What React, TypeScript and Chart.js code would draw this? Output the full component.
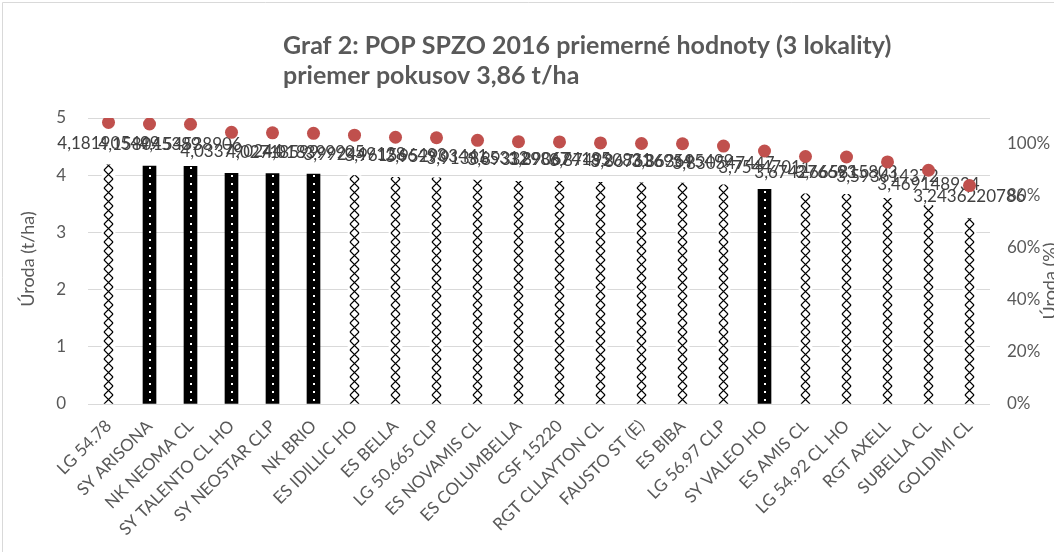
import React, { useEffect, useRef } from "react";
import { Chart, registerables } from "chart.js";

Chart.register(...registerables);

const titleLines = ["Graf 2: POP SPZO 2016 priemerné hodnoty (3 lokality)", "priemer pokusov 3,86 t/ha"];
const leftAxisTitle = "Úroda (t/ha)";
const rightAxisTitle = "Úroda (%)";

const categories = [
  "LG 54.78", "SY ARISONA", "NK NEOMA CL", "SY TALENTO CL HO", "SY NEOSTAR CLP", "NK BRIO",
  "ES IDILLIC HO", "ES BELLA", "LG 50.665 CLP", "ES NOVAMIS CL", "ES COLUMBELLA", "CSF 15220",
  "RGT CLLAYTON CL", "FAUSTO ST (E)", "ES BIBA", "LG 56.97 CLP", "SY VALEO HO", "ES AMIS CL",
  "LG 54.92 CL HO", "RGT AXELL", "SUBELLA CL", "GOLDIMI CL",
];

const yields = [
  4.181905499, 4.158045389, 4.154538906, 4.033790244, 4.02718599, 4.018399905,
  3.992449128, 3.961566493, 3.952903441, 3.913865312, 3.893329867, 3.890674185,
  3.874920831, 3.867636954, 3.863695499, 3.830547447, 3.75447011, 3.674276693,
  3.665815803, 3.593614372, 3.469148934, 3.2436220786,
];

const relativePct = [
  108.3, 107.7, 107.6, 104.5, 104.3, 104.1, 103.4, 102.6, 102.4, 101.4, 100.9, 100.8,
  100.4, 100.2, 100.1, 99.2, 97.3, 95.2, 95.0, 93.1, 89.9, 84.0,
];

const solidVarieties = ["SY ARISONA", "NK NEOMA CL", "SY TALENTO CL HO", "SY NEOSTAR CLP", "NK BRIO", "SY VALEO HO"];

const leftMin = 0;
const leftMax = 5;
const leftStep = 1;
const rightMin = 0;
const rightMax = 110;
const rightStep = 20;

const FONT = "Lato, 'Open Sans', sans-serif";
const TEXT = "#595959";
const BAR_W = 13;

function makeHatchTile(): HTMLCanvasElement {
  const c = document.createElement("canvas");
  c.width = BAR_W;
  c.height = 9;
  const g = c.getContext("2d")!;
  g.fillStyle = "#ffffff";
  g.fillRect(0, 0, c.width, c.height);
  g.strokeStyle = "#000000";
  g.lineWidth = 1.2;
  g.beginPath();
  g.moveTo(2, 0);
  g.lineTo(11, 9);
  g.moveTo(11, 0);
  g.lineTo(2, 9);
  g.stroke();
  return c;
}

function makeSolidTile(): HTMLCanvasElement {
  const c = document.createElement("canvas");
  c.width = BAR_W;
  c.height = 8;
  const g = c.getContext("2d")!;
  g.fillStyle = "#000000";
  g.fillRect(0, 0, c.width, c.height);
  g.fillStyle = "#ffffff";
  g.fillRect(6, 3, 2, 2);
  return c;
}

export default function App() {
  const ref = useRef<HTMLCanvasElement | null>(null);

  useEffect(() => {
    const canvas = ref.current!;
    const hatchTile = makeHatchTile();
    const solidTile = makeSolidTile();

    const decor = {
      id: "decor",
      afterDatasetDraw(chart: any, args: any) {
        if (args.index !== 0) return;
        const ctx = chart.ctx;
        const meta = chart.getDatasetMeta(0);
        ctx.save();
        ctx.font = `17px ${FONT}`;
        ctx.fillStyle = "#404040";
        ctx.textAlign = "center";
        ctx.textBaseline = "bottom";
        meta.data.forEach((el: any, i: number) => {
          const txt = String(yields[i]).replace(".", ",");
          ctx.fillText(txt, el.x, el.y - 13);
        });
        ctx.restore();
      },
      afterDraw(chart: any) {
        const ctx = chart.ctx;
        const area = chart.chartArea;
        ctx.save();
        ctx.strokeStyle = "#d9d9d9";
        ctx.lineWidth = 1;
        ctx.beginPath();
        ctx.moveTo(2.5, 552);
        ctx.lineTo(2.5, 2.5);
        ctx.lineTo(1054, 2.5);
        ctx.stroke();
        ctx.fillStyle = TEXT;
        ctx.font = `bold 25px ${FONT}`;
        ctx.textAlign = "left";
        ctx.textBaseline = "middle";
        ctx.fillText(titleLines[0], 283, 46);
        ctx.fillText(titleLines[1], 283, 76);
        const cy = (area.top + area.bottom) / 2;
        ctx.font = `18px ${FONT}`;
        ctx.textAlign = "center";
        ctx.save();
        ctx.translate(28, cy - 2);
        ctx.rotate(-Math.PI / 2);
        ctx.fillText(leftAxisTitle, 0, 0);
        ctx.restore();
        ctx.save();
        ctx.translate(1050, cy + 20);
        ctx.rotate(-Math.PI / 2);
        ctx.fillText(rightAxisTitle, 0, 0);
        ctx.restore();
        ctx.restore();
      },
    };

    const chart = new Chart(canvas, {
      data: {
        labels: categories,
        datasets: [
          {
            type: "bar",
            label: "Úroda (t/ha)",
            data: yields,
            yAxisID: "y",
            order: 1,
            barThickness: BAR_W,
            borderWidth: 0,
            backgroundColor: (c: any) => {
              const chartRef = c.chart;
              const i = c.dataIndex;
              if (i === undefined || !chartRef.scales || !chartRef.scales.x) return "#000";
              const tile = solidVarieties.includes(categories[i]) ? solidTile : hatchTile;
              const pat = chartRef.ctx.createPattern(tile, "repeat");
              const cx = chartRef.scales.x.getPixelForValue(i);
              const left = Math.round(cx - BAR_W / 2);
              const base = chartRef.scales.y.getPixelForValue(0);
              if (pat && (pat as any).setTransform) {
                pat.setTransform(new DOMMatrix().translate(left, Math.round(base)));
              }
              return pat || "#000";
            },
          } as any,
          {
            type: "line",
            label: "Úroda (%)",
            data: relativePct,
            yAxisID: "y1",
            order: 0,
            showLine: false,
            pointRadius: 6.5,
            pointHoverRadius: 6.5,
            pointBackgroundColor: "#c0504d",
            pointBorderColor: "#c0504d",
            pointBorderWidth: 0,
            borderColor: "#c0504d",
          } as any,
        ],
      },
      options: {
        responsive: false,
        animation: false,
        devicePixelRatio: 1,
        layout: { padding: { top: 118, left: 0, right: 0, bottom: 0 } },
        plugins: {
          legend: { display: false },
          title: { display: false },
          tooltip: { enabled: false },
        },
        scales: {
          x: {
            grid: { display: false },
            border: { display: false },
            ticks: {
              autoSkip: false,
              minRotation: 45,
              maxRotation: 45,
              color: TEXT,
              font: { family: FONT, size: 17 },
              padding: 4,
            },
            afterFit: (s: any) => {
              s.height = 148;
            },
          },
          y: {
            position: "left",
            min: leftMin,
            max: leftMax,
            ticks: {
              stepSize: leftStep,
              color: TEXT,
              font: { family: FONT, size: 17 },
              padding: 22,
            },
            grid: { color: "#d9d9d9", drawTicks: false, lineWidth: 1 },
            border: { display: false },
            afterFit: (s: any) => {
              s.width = 88;
            },
          },
          y1: {
            position: "right",
            min: rightMin,
            max: rightMax,
            ticks: {
              stepSize: rightStep,
              color: TEXT,
              font: { family: FONT, size: 17 },
              padding: 17,
              callback: (v: any) => (Number(v) <= 100 ? `${v}%` : ""),
            },
            grid: { display: false, drawTicks: false },
            border: { display: false },
            afterFit: (s: any) => {
              s.width = 64;
            },
          },
        },
      } as any,
      plugins: [decor],
    });

    return () => chart.destroy();
  }, []);

  return (
    <div style={{ position: "fixed", left: 0, top: 0, width: 1054, height: 552, background: "#fff" }}>
      <canvas ref={ref} width={1054} height={552} style={{ display: "block", width: 1054, height: 552 }} />
    </div>
  );
}
